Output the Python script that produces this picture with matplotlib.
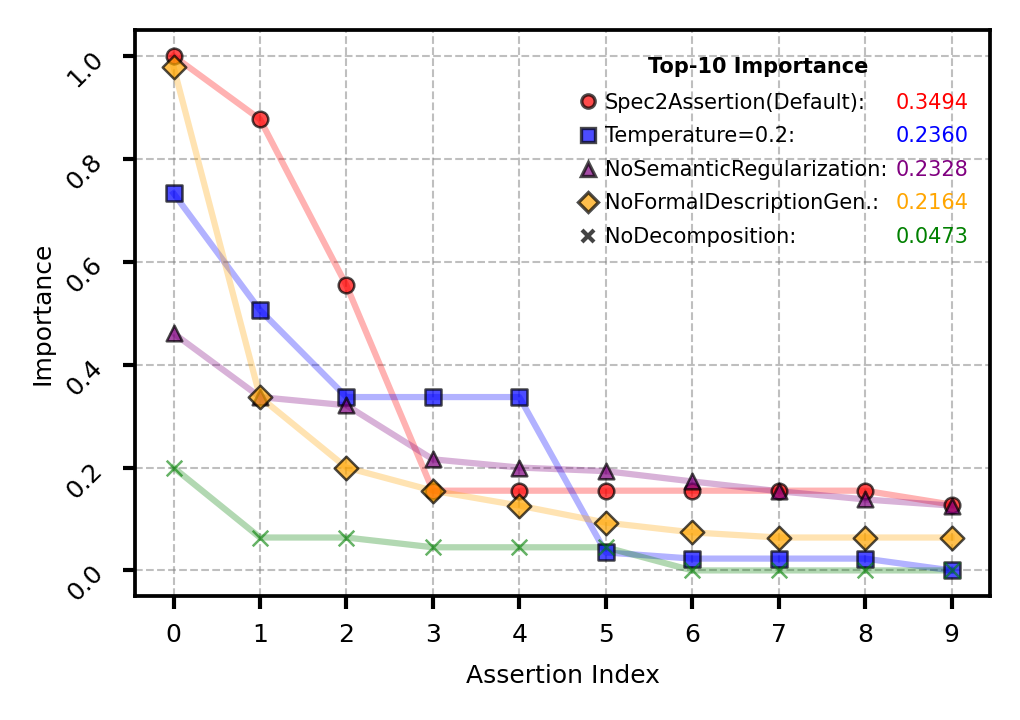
import matplotlib
matplotlib.use('Agg')
import matplotlib.pyplot as plt
from matplotlib.lines import Line2D

assertion_idx = list(range(10))

spec2assertion = [1.0, 0.877, 0.554, 0.155, 0.155, 0.155, 0.155, 0.155, 0.155, 0.128]
temperature_02 = [0.733, 0.506, 0.337, 0.337, 0.337, 0.035, 0.023, 0.023, 0.023, 0.0]
no_semantic_reg = [0.461, 0.337, 0.321, 0.216, 0.200, 0.193, 0.173, 0.154, 0.138, 0.126]
no_formal_desc = [0.979, 0.337, 0.200, 0.155, 0.126, 0.093, 0.074, 0.064, 0.064, 0.064]
no_decomposition = [0.200, 0.064, 0.064, 0.045, 0.045, 0.045, 0.0, 0.0, 0.0, 0.0]

names = ['Spec2Assertion(Default):', 'Temperature=0.2:', 'NoSemanticRegularization:',
         'NoFormalDescriptionGen.:', 'NoDecomposition:']
scores = ['0.3494', '0.2360', '0.2328', '0.2164', '0.0473']
colors = ['red', 'blue', 'purple', 'orange', 'green']
markers = ['o', 's', '^', 'D', 'x']
series = [spec2assertion, temperature_02, no_semantic_reg, no_formal_desc, no_decomposition]


def main():
    fig, ax = plt.subplots(figsize=(3.4, 2.4), dpi=300)
    fig.subplots_adjust(left=0.132, right=0.971, top=0.958, bottom=0.172)

    handles = []
    for vals, c, m in zip(series, colors, markers):
        ax.plot(assertion_idx, vals, color=c, alpha=0.3, lw=1.5, zorder=2)
        if m == 'x':
            ax.scatter(assertion_idx, vals, marker=m, color=c, alpha=0.6, s=14, lw=0.6, zorder=3)
            h = Line2D([], [], ls='none', marker=m, color='#444444', markersize=3, mew=1.0)
        else:
            ms = 14 if m != 'D' else 16
            ax.scatter(assertion_idx, vals, marker=m, color=c, alpha=0.7, s=ms,
                       edgecolors='black', linewidths=0.6, zorder=3)
            h = Line2D([], [], ls='none', marker=m, markerfacecolor=c, markeredgecolor='black',
                       alpha=0.7, markersize=3.2 if m != 'D' else 3.5, mew=0.8)
        handles.append(h)

    ax.set_xlabel('Assertion Index', fontsize=6)
    ax.set_ylabel('Importance', fontsize=6, labelpad=2)
    ax.set_xticks(assertion_idx)
    ax.tick_params(axis='both', labelsize=6, width=1.0, length=3)
    plt.setp(ax.get_yticklabels(), rotation=45)
    ax.grid(True, linestyle='--', color='gray', alpha=0.5, lw=0.5)
    for s in ax.spines.values():
        s.set_linewidth(0.9)

    leg = ax.legend(handles, names, loc='upper left', bbox_to_anchor=(0.4985, 0.919),
                    fontsize=5, frameon=False, handlelength=1.0, handletextpad=0.3,
                    labelspacing=0.65, borderpad=0.3)
    ax.text(0.729, 0.935, 'Top-10 Importance', fontsize=5, fontweight='bold',
            ha='center', va='center', transform=ax.transAxes)

    # scores next to legend rows, right aligned
    fig.canvas.draw()
    inv = ax.transAxes.inverted()
    for t, sc, c in zip(leg.get_texts(), scores, colors):
        bb = t.get_window_extent()
        y = inv.transform((0, (bb.y0 + bb.y1) / 2))[1]
        ax.text(0.974, y, sc, color=c, fontsize=5, ha='right', va='center',
                transform=ax.transAxes)

    fig.savefig('out.png', dpi=300)


if __name__ == '__main__':
    main()
